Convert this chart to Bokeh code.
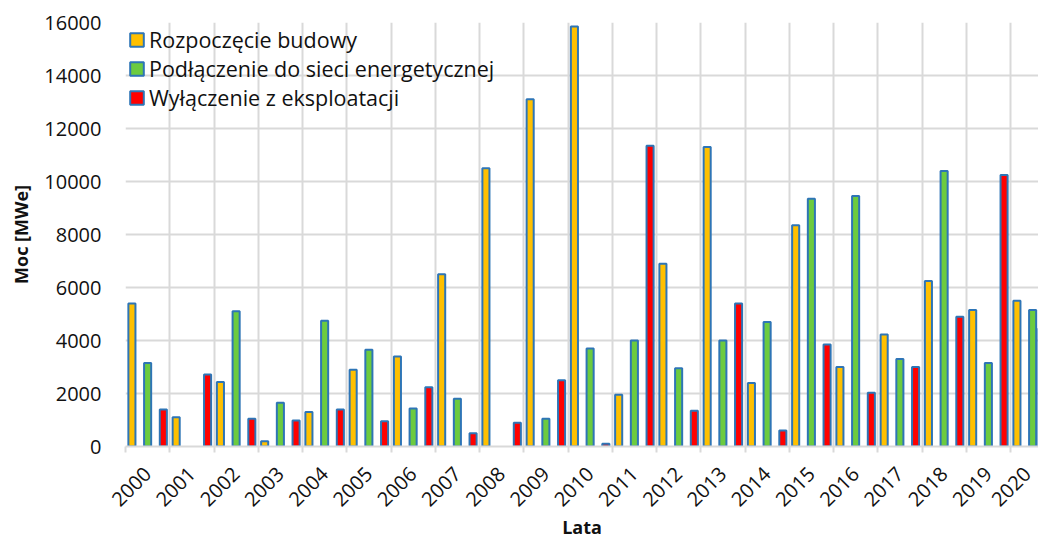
from math import pi
from bokeh.plotting import figure
from bokeh.models import Range1d, FixedTicker, ColumnDataSource, Legend, LegendItem
from bokeh.embed import file_html
from bokeh.resources import INLINE

years = [str(y) for y in range(2000, 2021)]
start = [5400, 1100, 2430, 200, 1300, 2900, 3400, 6500, 10500, 13100, 15850,
         1950, 6900, 11300, 2400, 8350, 3000, 4230, 6250, 5150, 5500]
grid_conn = [3150, 0, 5100, 1650, 4750, 3650, 1430, 1800, 0, 1050, 3700,
             4000, 2950, 4000, 4700, 9350, 9450, 3300, 10400, 3150, 5150]
shutdown = [1400, 2720, 1050, 980, 1400, 950, 2240, 500, 900, 2500, 100,
            11350, 1350, 5400, 600, 3850, 2030, 3000, 4900, 10250, 4450]
y_ticks = list(range(0, 16001, 2000))

FONT = "Open Sans"
GRID = "#D9D9D9"

n = len(years)
centers = [i + 0.5 for i in range(n)]
bounds = list(range(n + 1))
x_end = 913 / 44.25
# keep the rotated year labels inside the visible frame
label_pos = [min(c, x_end - 0.25) for c in centers]

p = figure(width=1038, height=541, output_backend="svg", toolbar_location=None,
           x_range=Range1d(0, x_end), y_range=Range1d(0, 16000),
           min_border_left=125, min_border_right=0, min_border_top=22,
           min_border_bottom=95)
p.outline_line_color = None

series = [("Rozpoczęcie budowy", start, "#FFC000", -0.355),
          ("Podłączenie do sieci energetycznej", grid_conn, "#6CCB3F", 0.0),
          ("Wyłączenie z eksploatacji", shutdown, "#FF0000", 0.355)]
items = []
for name, vals, col, off in series:
    xs = [c + off for c, v in zip(centers, vals) if v > 0]
    ys = [v for v in vals if v > 0]
    src = ColumnDataSource(dict(x=xs, top=ys))
    r = p.vbar(x="x", top="top", bottom=0, width=0.16, source=src,
               fill_color=col, line_color="#2E75B6", line_width=2)
    items.append(LegendItem(label=name, renderers=[r]))

legend = Legend(items=items, location="top_left")
legend.background_fill_alpha = 0
legend.border_line_color = None
legend.label_text_font = FONT
legend.label_text_font_size = "21.5px"
legend.label_text_color = "#111111"
legend.label_height = 29
legend.glyph_width = 17
legend.glyph_height = 17
legend.spacing = 0
legend.padding = 5
legend.margin = 3
legend.label_standoff = 4
p.add_layout(legend)

p.xgrid.ticker = FixedTicker(ticks=bounds)
p.ygrid.ticker = FixedTicker(ticks=y_ticks)
for g in (p.xgrid, p.ygrid):
    g.grid_line_color = GRID
    g.grid_line_width = 2

xa = p.xaxis[0]
xa.ticker = FixedTicker(ticks=label_pos, minor_ticks=bounds)
xa.major_label_overrides = {c: y for c, y in zip(label_pos, years)}
xa.major_label_orientation = pi / 4
xa.axis_line_color = GRID
xa.axis_line_width = 2
xa.major_tick_line_color = None
xa.major_tick_out = 6
xa.major_tick_in = 0
xa.minor_tick_line_color = GRID
xa.minor_tick_line_width = 2
xa.minor_tick_out = 6
xa.minor_tick_in = 0
xa.major_label_standoff = 18
xa.axis_label = "Lata"
xa.axis_label_standoff = -1

ya = p.yaxis[0]
ya.ticker = FixedTicker(ticks=y_ticks)
ya.axis_line_color = None
ya.major_tick_line_color = None
ya.minor_tick_line_color = None
ya.major_tick_out = 0
ya.major_tick_in = 0
ya.major_label_standoff = 24
ya.axis_label = "Moc [MWe]"
ya.axis_label_standoff = 8

for ax in (xa, ya):
    ax.major_label_text_font = FONT
    ax.major_label_text_font_size = "20px"
    ax.major_label_text_color = "#111111"
    ax.axis_label_text_font = FONT
    ax.axis_label_text_font_size = "18px"
    ax.axis_label_text_font_style = "bold"
    ax.axis_label_text_color = "#111111"

open("out.html", "w").write(file_html(p, INLINE))
